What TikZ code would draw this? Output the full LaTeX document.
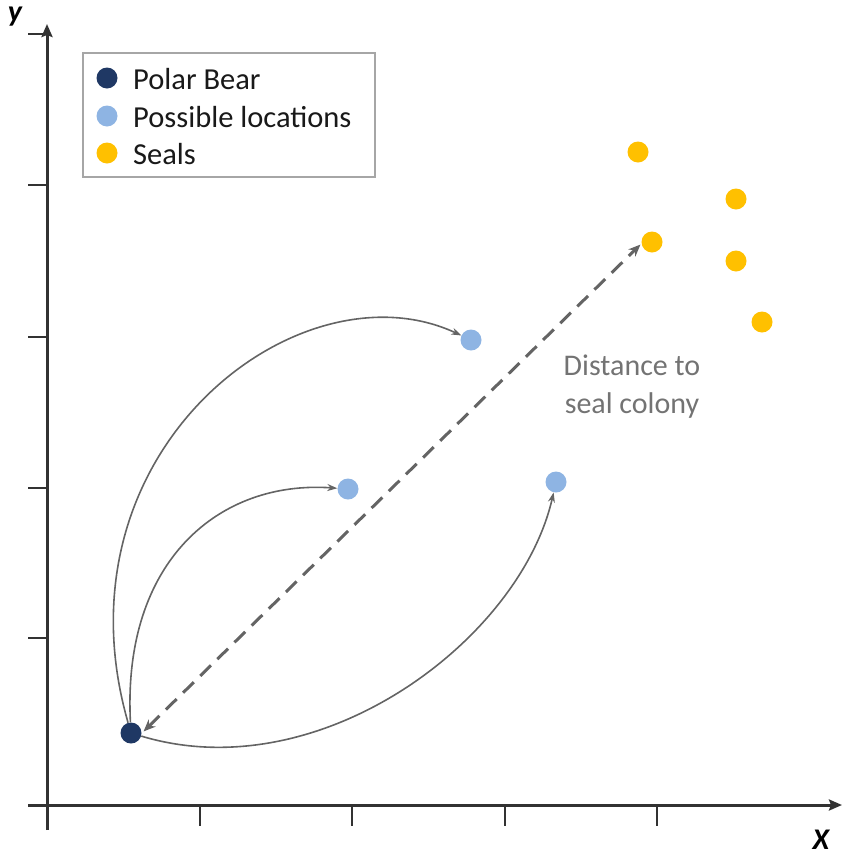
\documentclass[tikz,border=0pt]{standalone}
\usepackage{fontspec}
\setmainfont{Carlito}
\usetikzlibrary{arrows.meta}
\definecolor{bearc}{RGB}{31,56,100}
\definecolor{locc}{RGB}{142,180,227}
\definecolor{sealc}{RGB}{255,192,0}
\definecolor{axisc}{RGB}{50,50,50}
\definecolor{curvec}{RGB}{100,100,100}
\definecolor{textc}{RGB}{115,115,115}
\begin{document}
\begin{tikzpicture}[x=1pt,y=-1pt,
  dot/.style={circle,inner sep=0pt,minimum size=21pt},
  beardot/.style={dot,fill=bearc},
  locdot/.style={dot,fill=locc},
  sealdot/.style={dot,fill=sealc},
  axisline/.style={draw=axisc,line width=3pt},
  tickline/.style={draw=axisc,line width=2.2pt},
  curve/.style={draw=curvec,line width=1.6pt,-{Stealth[length=10pt,width=7pt]}},
  dist/.style={draw=curvec,line width=3pt,dash pattern=on 15pt off 9pt,{Stealth[length=12pt,width=10pt]}-{Stealth[length=12pt,width=10pt]}},
  legtext/.style={anchor=west,font=\fontsize{30.5}{32}\selectfont,inner sep=0pt,text=black!90}
]
\useasboundingbox (0,0) rectangle (850,860);
% axes
\coordinate (xs) at (28,805);
\coordinate (xe) at (842,805);
\coordinate (ys) at (47,830);
\coordinate (ye) at (47,24);
\draw[axisline,-{Stealth[length=13pt,width=11pt,inset=2pt]}] (xs) -- (xe);
\draw[axisline,-{Stealth[length=13pt,width=11pt,inset=2pt]}] (ys) -- (ye);
\foreach \i/\x in {1/200,2/352,3/505,4/657}{
  \coordinate (xt\i a) at (\x,805);
  \coordinate (xt\i b) at (\x,826);
  \draw[tickline] (xt\i a) -- (xt\i b);
}
\foreach \i/\y in {1/34,2/185,3/337,4/488,5/638}{
  \coordinate (yt\i a) at (28,\y);
  \coordinate (yt\i b) at (47,\y);
  \draw[tickline] (yt\i a) -- (yt\i b);
}
\node[font=\fontsize{30}{32}\selectfont\bfseries\itshape,inner sep=0pt] (ylab) at (15,17) {y};
\node[font=\fontsize{30}{32}\selectfont\bfseries\itshape,inner sep=0pt] (xlab) at (821,840) {X};
% legend
\node[draw=gray!70,line width=1.4pt,minimum width=292pt,minimum height=124pt,inner sep=0pt] (legend) at (229,115) {};
\node[beardot] (lb) at (107,78) {};
\node[locdot] (ll) at (107,116) {};
\node[sealdot] (ls) at (107,153) {};
\node[legtext] (lbt) at (133,79) {Polar Bear};
\node[legtext] (llt) at (133,117) {Possible locations};
\node[legtext] (lst) at (133,154) {Seals};
% points
\node[beardot] (bear) at (131,733) {};
\node[locdot] (loc1) at (471,340) {};
\node[locdot] (loc2) at (348,489) {};
\node[locdot] (loc3) at (556,482) {};
\node[sealdot] (s1) at (638,152) {};
\node[sealdot] (s2) at (736,199) {};
\node[sealdot] (s3) at (652,242) {};
\node[sealdot] (s4) at (736,261) {};
\node[sealdot] (s5) at (762,322) {};
% connectors
\draw[curve] (bear) .. controls (50,450) and (300,260) .. (loc1);
\draw[curve] (bear) .. controls (122,560) and (220,480) .. (loc2);
\draw[curve] (bear) .. controls (320,790) and (520,640) .. (loc3);
\draw[dist] ([shift={(5pt,-6pt)}]bear.north east) -- ([shift={(-4pt,5pt)}]s3.south west);
\node[align=center,text=textc,font=\fontsize{30}{38}\selectfont] (dlab) at (632,387) {Distance to\\seal colony};
\end{tikzpicture}
\end{document}
